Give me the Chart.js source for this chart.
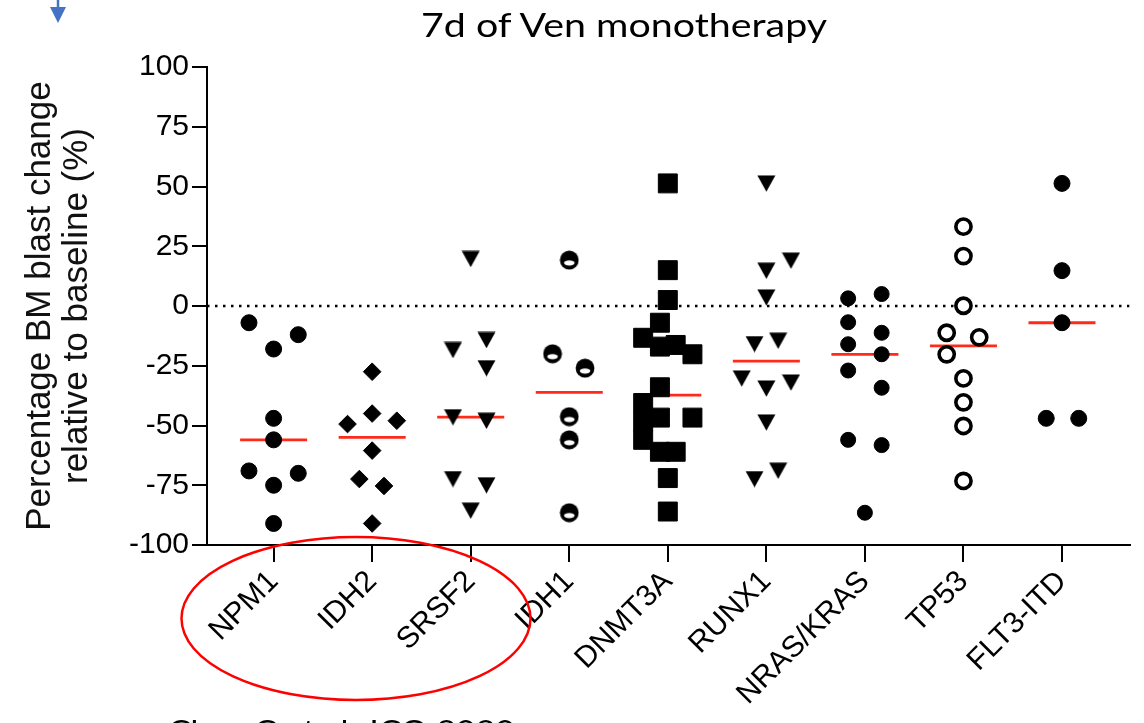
<!DOCTYPE html>
<html>
<head>
<meta charset="utf-8">
<title>7d of Ven monotherapy</title>
<script src="https://cdn.jsdelivr.net/npm/chart.js@4.4.1/dist/chart.umd.min.js"></script>
<style>
  html, body { margin: 0; padding: 0; background: #fff; overflow: hidden; }
  #wrap { position: relative; width: 1144px; height: 723px; }
  #myChart { position: absolute; left: 0; top: 0; }
  #overlay { position: absolute; left: 0; top: 0; pointer-events: none; }
</style>
</head>
<body>
<div id="wrap">
  <canvas id="myChart" width="1144" height="723"></canvas>
  <svg id="overlay" width="1144" height="723">
    <!-- 파란 화살표 -->
    <line x1="58" y1="0" x2="58" y2="10" stroke="#4472c4" stroke-width="2.5"/>
    <polygon points="50,7 66,7 58,23" fill="#4472c4"/>
    <text x="421" y="37" font-family="Lato, 'Open Sans', sans-serif" font-size="32" fill="#000"
          textLength="406" lengthAdjust="spacingAndGlyphs">7d of Ven monotherapy</text>
    <!-- 강조 타원 -->
    <ellipse cx="356" cy="618.5" rx="174.5" ry="81.5" fill="none" stroke="#ff0000" stroke-width="2.5"/>
    <text x="168" y="741" font-family="Lato, 'Open Sans', sans-serif" font-size="28" fill="#000"
          textLength="347" lengthAdjust="spacingAndGlyphs">Chua C et al. JCO 2020</text>
  </svg>
</div>

<script>
// 유전자 변이 그룹
const categories = ['NPM1', 'IDH2', 'SRSF2', 'IDH1', 'DNMT3A', 'RUNX1', 'NRAS/KRAS', 'TP53', 'FLT3-ITD'];

// 7일 후 골수 blast 변화율(%) - 그룹별 환자값과 가로 위치(열 간격)
const npm1 = [-7, -12, -18, -47, -56, -69, -70, -75, -91];
const npm1Dx = [-0.25, 0.25, 0, 0, 0, -0.25, 0.25, 0, 0];

const idh2 = [-27.5, -45, -49.4, -48, -60.5, -72.4, -75.3, -91];
const idh2Dx = [0, 0, -0.25, 0.25, 0, -0.13, 0.12, 0];

const srsf2 = [19.7, -14.2, -18.4, -26, -46.5, -48, -72.4, -75, -85.6];
const srsf2Dx = [0, 0.16, -0.18, 0.16, -0.18, 0.16, -0.18, 0.16, 0];

const idh1 = [19.2, -20, -26, -46.3, -56, -86.5];
const idh1Dx = [0, -0.17, 0.16, 0, 0, 0];

const dnmt3a = [51.3, 15, 2.5, -7, -13.3, -17, -16.3, -20.2, -34, -40.6, -46.7, -46.7, -48.4, -56, -61, -61, -72, -86];
const dnmt3aDx = [0, 0, 0, -0.08, -0.25, -0.08, 0.08, 0.25, -0.08, -0.25, -0.08, 0.25, -0.25, -0.25, -0.08, 0.08, 0, 0];

const runx1 = [51.3, 19, 14.8, 3.6, -14.5, -15.9, -30.3, -32, -34.5, -48.7, -68.9, -72.4];
const runx1Dx = [0, 0.25, 0, 0, 0.12, -0.12, -0.25, 0.25, 0, 0, 0.12, -0.12];

const nras = [3.2, 5, -6.8, -11.2, -16, -20.2, -27, -34.2, -56, -58.2, -86.5];
const nrasDx = [-0.17, 0.17, -0.17, 0.17, -0.17, 0.17, -0.17, 0.17, -0.17, 0.17, 0];

const tp53 = [33.2, 20.9, 0.1, -11.2, -13.1, -20.2, -30.3, -40.3, -50.2, -73.2];
const tp53Dx = [0, 0, 0, -0.17, 0.16, -0.17, 0, 0, 0, 0];

const flt3 = [51.3, 14.8, -7, -47, -47];
const flt3Dx = [0, 0, 0, -0.16, 0.17];

const groupValues = [npm1, idh2, srsf2, idh1, dnmt3a, runx1, nras, tp53, flt3];
const groupDx = [npm1Dx, idh2Dx, srsf2Dx, idh1Dx, dnmt3aDx, runx1Dx, nrasDx, tp53Dx, flt3Dx];

// 축 범위
const xMin = -0.676;
const xMax = 8.686;
const yTicks = [-100, -75, -50, -25, 0, 25, 50, 75, 100];

function median(arr) {
  const s = arr.slice().sort(function(a, b) { return a - b; });
  const m = Math.floor(s.length / 2);
  return s.length % 2 ? s[m] : (s[m - 1] + s[m]) / 2;
}

// 역삼각형 마커 (가운데 기준)
function makeTriangleDown() {
  const c = document.createElement('canvas');
  c.width = 19; c.height = 17;
  const ctx = c.getContext('2d');
  ctx.fillStyle = '#000';
  ctx.beginPath();
  ctx.moveTo(0.5, 0.5);
  ctx.lineTo(18.5, 0.5);
  ctx.lineTo(9.5, 16.8);
  ctx.closePath();
  ctx.fill();
  return c;
}

// 반쯤 채운 원 마커
function makeHalfCircle() {
  const c = document.createElement('canvas');
  c.width = 20; c.height = 20;
  const ctx = c.getContext('2d');
  ctx.fillStyle = '#000';
  ctx.beginPath();
  ctx.arc(10, 10, 9.4, 0, Math.PI * 2);
  ctx.fill();
  ctx.fillStyle = '#fff';
  ctx.beginPath();
  ctx.ellipse(10, 12.8, 5.3, 2.6, 0, 0, Math.PI * 2);
  ctx.fill();
  return c;
}

const triDown = makeTriangleDown();
const halfCircle = makeHalfCircle();

const markers = [
  { style: 'circle', radius: 8, fill: '#000', border: 1 },
  { style: 'rectRot', radius: 8.8, fill: '#000', border: 1 },
  { style: triDown, radius: 9, fill: '#000', border: 0 },
  { style: halfCircle, radius: 9, fill: '#000', border: 0 },
  { style: 'rect', radius: 13.4, fill: '#000', border: 1 },
  { style: triDown, radius: 9, fill: '#000', border: 0 },
  { style: 'circle', radius: 7.5, fill: '#000', border: 1 },
  { style: 'circle', radius: 7.6, fill: '#fff', border: 3.6 },
  { style: 'circle', radius: 8, fill: '#000', border: 1 }
];

const datasets = [];

// 점 데이터
categories.forEach(function(name, i) {
  const m = markers[i];
  datasets.push({
    label: name,
    data: groupValues[i].map(function(v, k) { return { x: i + groupDx[i][k], y: v }; }),
    pointStyle: m.style,
    pointRadius: m.radius,
    pointBackgroundColor: m.fill,
    pointBorderColor: '#000',
    pointBorderWidth: m.border,
    showLine: false,
    order: 0
  });
});

// 중앙값 가로선
categories.forEach(function(name, i) {
  const med = median(groupValues[i]);
  datasets.push({
    label: name + ' median',
    data: [{ x: i - 0.34, y: med }, { x: i + 0.34, y: med }],
    showLine: true,
    borderColor: '#ff2a1a',
    borderWidth: 2.8,
    pointRadius: 0,
    order: 1
  });
});

// 0 기준 점선
datasets.push({
  label: 'baseline',
  data: [{ x: xMin, y: 0 }, { x: xMax, y: 0 }],
  showLine: true,
  borderColor: '#000',
  borderWidth: 2.5,
  borderDash: [2.5, 5.5],
  pointRadius: 0,
  order: 2
});

const tickFont = { family: "'Liberation Sans', Arial, sans-serif", size: 30 };

const config = {
  type: 'scatter',
  data: { datasets: datasets },
  options: {
    responsive: false,
    animation: false,
    layout: { padding: { left: 0, right: 9, top: 67, bottom: 0 } },
    plugins: {
      legend: { display: false },
      tooltip: { enabled: false }
    },
    scales: {
      x: {
        type: 'linear',
        min: xMin,
        max: xMax,
        afterBuildTicks: function(scale) {
          scale.ticks = categories.map(function(c, i) { return { value: i }; });
        },
        afterFit: function(scale) { scale.height = 178; },
        ticks: {
          autoSkip: false,
          minRotation: 45,
          maxRotation: 45,
          padding: 2,
          color: '#000',
          font: tickFont,
          callback: function(value) { return categories[Math.round(value)]; }
        },
        grid: { drawOnChartArea: false, drawTicks: true, tickLength: 17, color: '#000', lineWidth: 2 },
        border: { display: true, color: '#000', width: 2 }
      },
      y: {
        min: -100,
        max: 100,
        afterBuildTicks: function(scale) {
          scale.ticks = yTicks.map(function(v) { return { value: v }; });
        },
        afterFit: function(scale) { scale.width = 207; },
        ticks: { padding: 3, color: '#000', font: tickFont },
        grid: { drawOnChartArea: false, drawTicks: true, tickLength: 15, color: '#000', lineWidth: 2 },
        border: { display: true, color: '#000', width: 2 },
        title: {
          display: true,
          text: ['Percentage BM blast change', 'relative to baseline (%)'],
          color: '#111',
          font: { family: "'Liberation Sans', Arial, sans-serif", size: 35, lineHeight: 1.06 },
          padding: { top: 22, bottom: 0 }
        }
      }
    }
  }
};

const myChart = new Chart(document.getElementById('myChart'), config);
</script>
</body>
</html>
